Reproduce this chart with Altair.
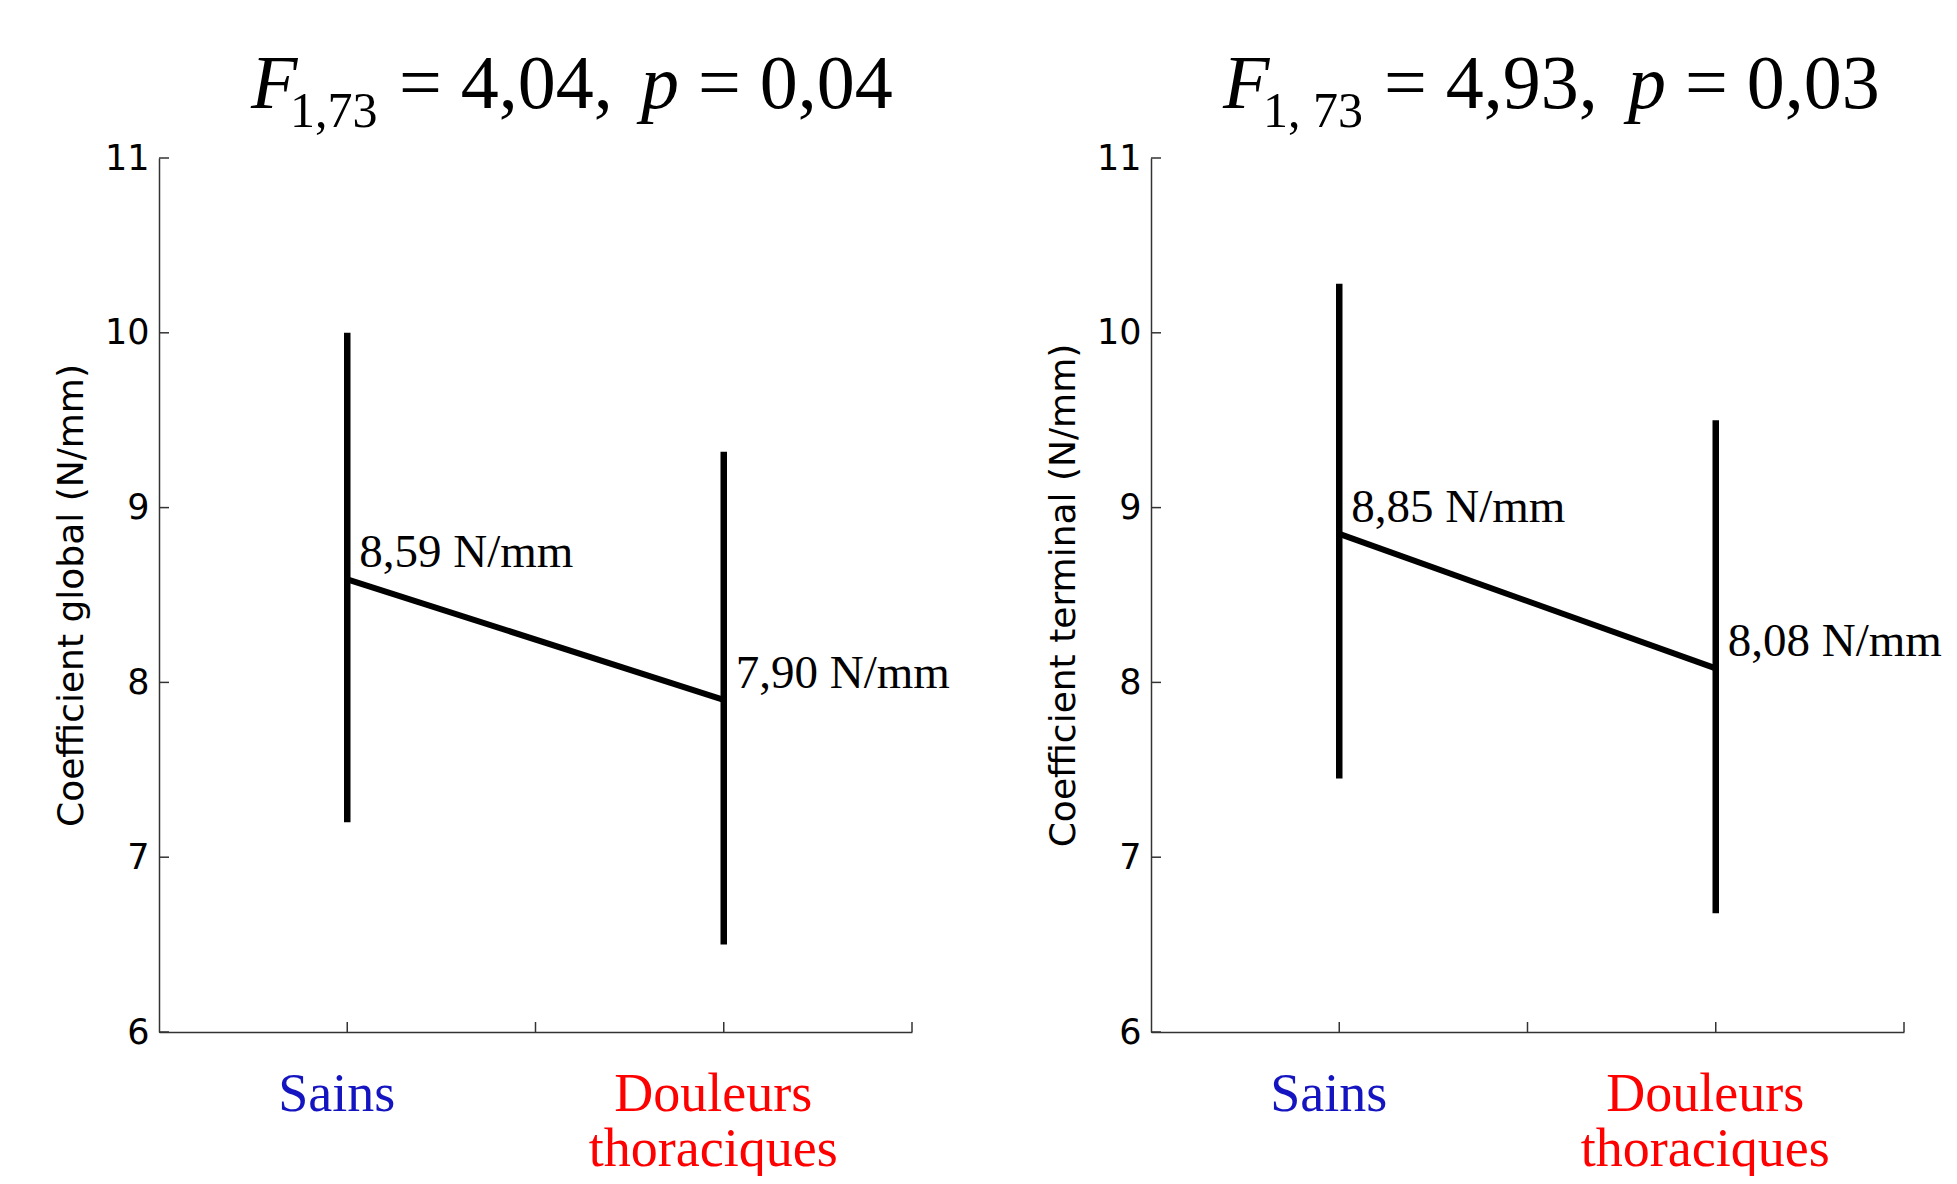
import json
import altair as alt
import pandas as pd

# ---- data ----
groups = [1, 2]
group_labels = ["Sains", ["Douleurs", "thoraciques"]]
group_colors = ["#1414c0", "#ff0000"]

global_mean = [8.59, 7.90]
global_low = [7.20, 6.50]
global_high = [10.00, 9.32]

terminal_mean = [8.85, 8.08]
terminal_low = [7.45, 6.68]
terminal_high = [10.28, 9.50]

y_ticks = [6, 7, 8, 9, 10, 11]
x_ticks = [1, 1.5, 2, 2.5]

left_title = ["F", "1,73", "= 4,04,", "p", "= 0,04"]
right_title = ["F", "1, 73", "= 4,93,", "p", "= 0,03"]
title_styles = ["italic", "sub", "normal", "italic", "normal"]

left_ytitle = "Coefficient global (N/mm)"
right_ytitle = "Coefficient terminal (N/mm)"

# ---- layout (pixels) ----
W, H = 753, 874
left_title_x = [92, 131, 240, 482, 539]
right_title_x = [72, 112, 233, 477, 534]

SERIF = "Liberation Serif"
SANS = "DejaVu Sans"


def panel(mean, lo, hi, ytitle, tsegs, tx):
    df = pd.DataFrame({
        "g": groups, "m": mean, "lo": lo, "hi": hi,
        "lab": [f"{v:.2f}".replace(".", ",") + " N/mm" for v in mean],
    })
    xs = alt.Scale(domain=[0.5, 2.5], nice=False, zero=False)
    ys = alt.Scale(domain=[6, 11], nice=False, zero=False)
    label_expr = "datum.value == 1 ? %s : %s" % (
        json.dumps(group_labels[0]), json.dumps(group_labels[1]))
    xaxis = alt.Axis(
        values=[1, 2], labelExpr=label_expr, ticks=False, grid=False,
        domainColor="#333333", domainWidth=1.5,
        labelFont=SERIF, labelFontSize=54, labelLineHeight=55,
        labelPadding=35, labelBaseline="top", labelOffset=-11,
        labelColor={"condition": {"test": "datum.value == 1", "value": group_colors[0]},
                    "value": group_colors[1]},
        labelOverlap=False, labelFlush=False, labelBound=False, labelLimit=0,
        title=None,
    )
    yaxis = alt.Axis(
        values=y_ticks, ticks=False, grid=False,
        domainColor="#333333", domainWidth=1.5,
        labelFont=SANS, labelFontSize=35, labelPadding=10, labelColor="black",
        title=ytitle, titleFont=SANS, titleFontSize=36, titleFontWeight="normal",
        titleColor="black", titlePadding=14,
    )
    base = alt.Chart(df)
    bars = base.mark_rule(color="black", strokeWidth=6.5).encode(
        x=alt.X("g:Q", scale=xs, axis=xaxis),
        y=alt.Y("lo:Q", scale=ys, axis=yaxis, title=ytitle),
        y2="hi:Q",
    )
    line = base.mark_line(color="black", strokeWidth=6).encode(
        x=alt.X("g:Q", scale=xs, axis=xaxis),
        y=alt.Y("m:Q", scale=ys, axis=yaxis, title=ytitle),
    )
    labels = base.mark_text(
        align="left", baseline="alphabetic", dx=12, dy=-12,
        font=SERIF, fontSize=47, color="black",
    ).encode(
        x=alt.X("g:Q", scale=xs, axis=xaxis),
        y=alt.Y("m:Q", scale=ys, axis=yaxis, title=ytitle),
        text="lab:N",
    )
    ytk = alt.Chart(pd.DataFrame({"v": y_ticks})).mark_rule(
        color="#333333", strokeWidth=1.5).encode(
        y=alt.Y("v:Q", scale=ys, axis=yaxis, title=ytitle),
        x=alt.value(0), x2=alt.value(10),
    )
    xtk = alt.Chart(pd.DataFrame({"v": x_ticks})).mark_rule(
        color="#333333", strokeWidth=1.5).encode(
        x=alt.X("v:Q", scale=xs, axis=xaxis),
        y=alt.value(H), y2=alt.value(H - 10),
    )
    titles = []
    for seg, style, x in zip(tsegs, title_styles, tx):
        sub = style == "sub"
        titles.append(
            alt.Chart(pd.DataFrame({"t": [seg]})).mark_text(
                align="left", baseline="alphabetic", font=SERIF,
                fontSize=50 if sub else 76,
                fontStyle="italic" if style == "italic" else "normal",
                color="black",
            ).encode(text="t:N", x=alt.value(x), y=alt.value(-31 if sub else -50))
        )
    return alt.layer(bars, line, labels, ytk, xtk, *titles).properties(width=W, height=H)


left = panel(global_mean, global_low, global_high, left_ytitle, left_title, left_title_x)
right = panel(terminal_mean, terminal_low, terminal_high, right_ytitle, right_title, right_title_x)

chart = alt.hconcat(left, right, spacing=239, bounds="flush").configure_view(stroke=None).properties(
    padding={"left": 45, "top": 39, "right": 0, "bottom": 0},
    background="white",
)

chart.save("out.html", embed_options={"renderer": "svg", "actions": False})
